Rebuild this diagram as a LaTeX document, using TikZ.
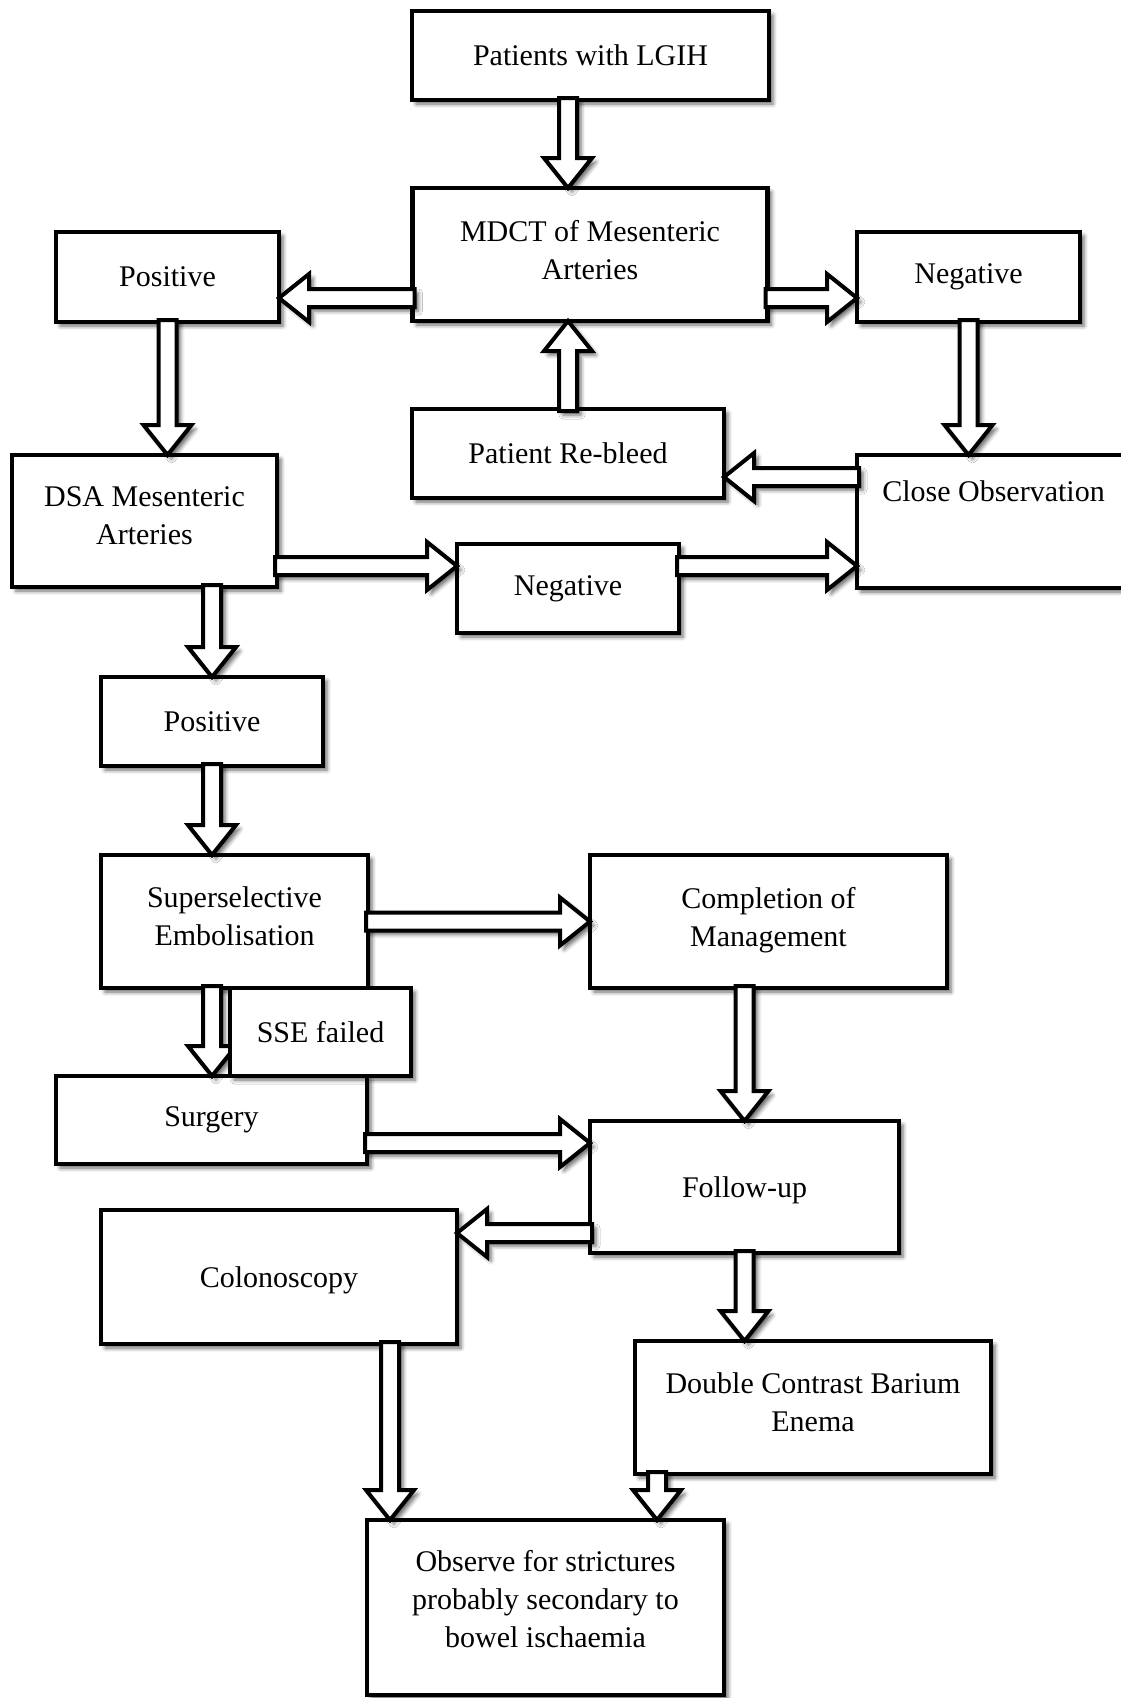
\documentclass[tikz,border=0pt]{standalone}
\usepackage{fontspec}
\setmainfont{Liberation Serif}
\usetikzlibrary{calc, positioning, shadows.blur}
\def\pxunit{0.5pt}
\def\boxlinewidth{2.4pt}
\def\arrowlinewidth{2pt}
\def\shaftwidth{4.5pt}
\def\headwidth{12pt}
\def\headlength{15pt}
\tikzset{
	% labels
	label_text/.style={
		font=\fontsize{15}{19}\selectfont,
		align=center,
	},
	% shadows
	soft_shadow/.style={
		blur shadow={
			shadow xshift=2pt,
			shadow yshift=-2pt,
			shadow blur radius=2pt,
			shadow opacity=60,
		},
	},
	% boxes
	flow_box/.style={
		label_text,
		draw=black,
		fill=white,
		line width=\boxlinewidth,
		shape=rectangle,
		inner sep=0pt,
		outer sep=0pt,
		soft_shadow,
	},
	box_size/.style 2 args={
		minimum width=#1*\pxunit,
		minimum height=#2*\pxunit,
	},
	% text a little above or below the middle
	top_text/.style={
		text depth=30pt,
	},
	raised_text/.style={
		text depth=#1,
	},
	raised_text/.default=5pt,
	low_text/.style={
		text height=14pt,
	},
	% arrows
	block_arrow/.style={
		draw=black,
		fill=white,
		line width=\arrowlinewidth,
		line join=miter,
		soft_shadow,
	},
}
% hollow block arrow from #1 to #2
\newcommand{\blockarrow}[2]{%
	\coordinate (ba_start) at (#1);
	\coordinate (ba_end) at (#2);
	\coordinate (ba_back) at ($(ba_start)!-1pt!(ba_end)$);
	\coordinate (ba_head) at ($(ba_end)!\headlength!(ba_start)$);
	\draw[block_arrow] ($(ba_back)!\shaftwidth!90:(ba_end)$)
		-- ($(ba_head)!\shaftwidth!-90:(ba_start)$)
		-- ($(ba_head)!\headwidth!-90:(ba_start)$)
		-- (ba_end)
		-- ($(ba_head)!\headwidth!90:(ba_start)$)
		-- ($(ba_head)!\shaftwidth!90:(ba_start)$)
		-- ($(ba_back)!\shaftwidth!-90:(ba_end)$)
		-- cycle;
}

\begin{document}
\begin{tikzpicture}[x=\pxunit, y=-\pxunit]
	\useasboundingbox (0,0) rectangle (1120,1698);

	% Top
	\node[flow_box, box_size={357}{89}] (lgih) at (590.5,55.5) {Patients with LGIH};
	\node[flow_box, box_size={355}{133}, raised_text] (mdct) at (590,254.5) {MDCT of Mesenteric\\Arteries};
	\node[flow_box, box_size={223}{90}] (pos1) at (167.5,277) {Positive};
	\node[flow_box, box_size={223}{90}] (neg1) at (968.5,277) {Negative};
	\node[flow_box, box_size={312}{89}] (rebleed) at (568,453.5) {Patient Re-bleed};
	\node[flow_box, box_size={273}{133}, top_text] (closeobs) at (993.5,521.5) {Close Observation};

	% DSA
	\node[flow_box, box_size={265}{132}, raised_text] (dsa) at (144.5,521) {DSA Mesenteric\\Arteries};
	\node[flow_box, box_size={222}{89}] (neg2) at (568,588.5) {Negative};
	\node[flow_box, box_size={222}{89}] (pos2) at (212,721.5) {Positive};

	% Treatment
	\node[flow_box, box_size={267}{133}, raised_text] (sse) at (234.5,921.5) {Superselective\\Embolisation};
	\node[flow_box, box_size={311}{88}] (surgery) at (211.5,1120) {Surgery};
	\node[flow_box, box_size={357}{133}, raised_text] (completion) at (768.5,921.5) {Completion of\\Management};

	% Follow-up
	\node[flow_box, box_size={309}{132}, low_text] (followup) at (744.5,1187) {Follow-up};
	\node[flow_box, box_size={356}{134}, low_text] (colonoscopy) at (279,1277) {Colonoscopy};
	\node[flow_box, box_size={356}{133}, raised_text] (dcbe) at (813,1407.5) {Double Contrast Barium\\Enema};
	\node[flow_box, box_size={357}{175}, raised_text=9pt] (observe) at (545.5,1607.5) {Observe for strictures\\probably secondary to\\bowel ischaemia};

	% Arrows
	\blockarrow{lgih.south -| rebleed}{mdct.north -| rebleed}
	\blockarrow{$(mdct.west)+(0,43.5)$}{$(pos1.east)+(0,21)$}
	\blockarrow{$(mdct.east)+(0,43.5)$}{$(neg1.west)+(0,21)$}
	\blockarrow{rebleed.north}{mdct.south -| rebleed}
	\blockarrow{neg1.south}{closeobs.north -| neg1}
	\blockarrow{$(closeobs.west)+(0,-44.5)$}{$(rebleed.east)+(0,23.5)$}
	\blockarrow{pos1.south}{dsa.north -| pos1}
	\blockarrow{$(dsa.east)+(0,45)$}{$(neg2.west)+(0,-22.5)$}
	\blockarrow{$(neg2.east)+(0,-22.5)$}{$(closeobs.west)+(0,44.5)$}
	\blockarrow{dsa.south -| pos2}{pos2.north}
	\blockarrow{pos2.south}{sse.north -| pos2}
	\blockarrow{sse.east}{completion.west}
	\blockarrow{sse.south -| pos2}{surgery.north -| pos2}
	\blockarrow{completion.south -| followup}{followup.north}
	\blockarrow{$(surgery.east)+(0,23)$}{$(followup.west)+(0,-44)$}
	\blockarrow{$(followup.west)+(0,46)$}{$(colonoscopy.east)+(0,-44)$}
	\blockarrow{followup.south}{dcbe.north -| followup}
	\blockarrow{$(colonoscopy.south)+(111,0)$}{$(observe.north)+(-155.5,0)$}
	\blockarrow{$(dcbe.south)+(-156,0)$}{$(observe.north)+(111.5,0)$}

	% SSE failed sits over the arrow
	\node[flow_box, box_size={181}{88}] (ssefail) at (320.5,1032) {SSE failed};
\end{tikzpicture}
\end{document}
